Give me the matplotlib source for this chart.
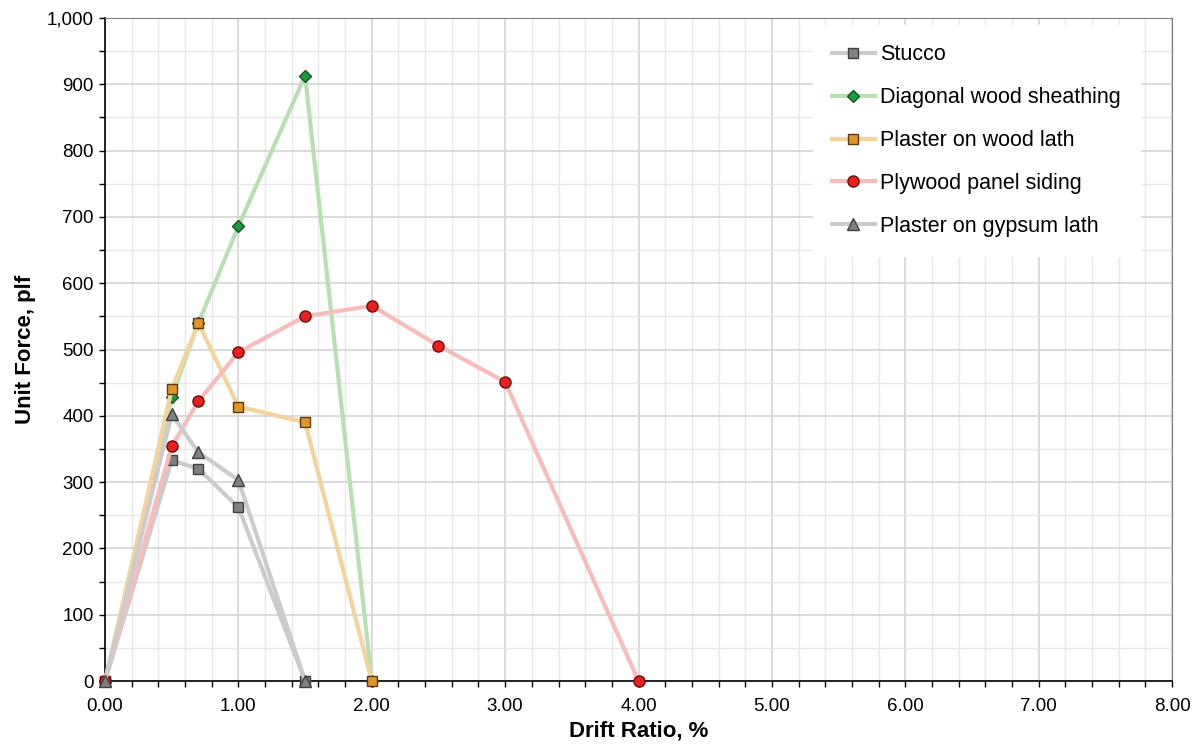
import matplotlib
matplotlib.use("Agg")
import matplotlib.pyplot as plt
from matplotlib.ticker import MultipleLocator, FuncFormatter

plt.rcParams['font.family'] = ['Liberation Sans', 'DejaVu Sans']

# Drift ratio (%) and unit force (plf) for each wall type
stucco_x = [0, 0.5, 0.7, 1.0, 1.5]
stucco_y = [0, 333, 320, 262, 0]

diag_x = [0, 0.5, 0.7, 1.0, 1.5, 2.0]
diag_y = [0, 428, 540, 686, 913, 0]

wood_lath_x = [0, 0.5, 0.7, 1.0, 1.5, 2.0]
wood_lath_y = [0, 440, 540, 414, 390, 0]

plywood_x = [0, 0.5, 0.7, 1.0, 1.5, 2.0, 2.5, 3.0, 4.0]
plywood_y = [0, 354, 422, 496, 550, 566, 506, 451, 0]

gypsum_x = [0, 0.5, 0.7, 1.0, 1.5]
gypsum_y = [0, 402, 345, 303, 0]

fig = plt.figure(figsize=(11.99, 7.53), dpi=100)
ax = fig.add_axes([0.0876, 0.0956, 0.8899, 0.8805])

lw = 3
ms = 7.5
ax.plot(stucco_x, stucco_y, color='#cccccc', lw=lw, marker='s', ms=ms,
        mfc='#808080', mec='#404040', mew=1, label='Stucco', zorder=3, clip_on=False)
ax.plot(diag_x, diag_y, color='#b9e0b3', lw=lw, marker='D', ms=ms - 1.5,
        mfc='#1f9a3e', mec='#14501f', mew=1, label='Diagonal wood sheathing', zorder=3, clip_on=False)
ax.plot(wood_lath_x, wood_lath_y, color='#f4d49c', lw=lw, marker='s', ms=ms,
        mfc='#e0952a', mec='#5a3a10', mew=1, label='Plaster on wood lath', zorder=3, clip_on=False)
ax.plot(plywood_x, plywood_y, color='#f9bcbc', lw=lw, marker='o', ms=ms + 0.5,
        mfc='#e8201e', mec='#6a0c0c', mew=1, label='Plywood panel siding', zorder=3, clip_on=False)
ax.plot(gypsum_x, gypsum_y, color='#cccccc', lw=lw, marker='^', ms=ms + 1,
        mfc='#808080', mec='#404040', mew=1, label='Plaster on gypsum lath', zorder=3, clip_on=False)

ax.set_xlim(0, 8)
ax.set_ylim(0, 1000)
ax.xaxis.set_major_locator(MultipleLocator(1))
ax.xaxis.set_minor_locator(MultipleLocator(0.2))
ax.yaxis.set_major_locator(MultipleLocator(100))
ax.yaxis.set_minor_locator(MultipleLocator(50))
ax.xaxis.set_major_formatter(FuncFormatter(lambda v, p: f'{v:.2f}'))
ax.yaxis.set_major_formatter(FuncFormatter(lambda v, p: f'{v:,.0f}'))

ax.grid(which='major', color='#d4d4d4', lw=1.2, zorder=0)
ax.grid(which='minor', color='#e8e8e8', lw=1.0, zorder=0)
ax.set_axisbelow(True)

ax.tick_params(which='both', direction='out', labelsize=13.5, length=4, width=1, color='black')
ax.tick_params(axis='x', pad=8)
ax.tick_params(axis='y', pad=4)

for s in ['top', 'right']:
    ax.spines[s].set_color('#808080')
for s in ['left', 'bottom']:
    ax.spines[s].set_color('black')
    ax.spines[s].set_linewidth(1.2)

ax.set_xlabel('Drift Ratio, %', fontsize=16, fontweight='bold', labelpad=4)
ax.set_ylabel('Unit Force, plf', fontsize=16, fontweight='bold', labelpad=8)

leg = ax.legend(loc='upper left', bbox_to_anchor=(0.653, 1.006), fontsize=15.5,
                frameon=True, fancybox=False, edgecolor='white', framealpha=1,
                handlelength=2.0, handletextpad=0.25, labelspacing=1.02,
                borderpad=0.9)
leg.set_zorder(5)

fig.savefig('out.png', dpi=100)
